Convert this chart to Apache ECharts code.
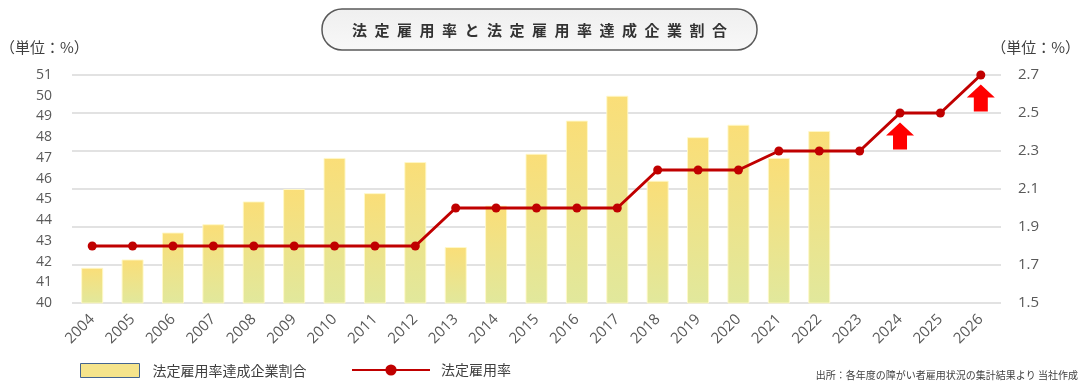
<!DOCTYPE html>
<html>
<head>
<meta charset="utf-8">
<script src="https://cdn.jsdelivr.net/npm/echarts@6/dist/echarts.min.js"></script>
<style>
html,body{margin:0;padding:0;background:#fff;}
#chart{width:1090px;height:388px;}
</style>
</head>
<body>
<div id="chart"></div>
<script>
// ---- data ----
const years = ['2004','2005','2006','2007','2008','2009','2010','2011','2012','2013','2014','2015','2016','2017','2018','2019','2020','2021','2022','2023','2024','2025','2026'];
const achievementRate = [41.7,42.1,43.4,43.8,44.9,45.5,47.0,45.3,46.8,42.7,44.7,47.2,48.8,50.0,45.9,48.0,48.6,47.0,48.3,null,null,null,null];
const legalRate = [1.8,1.8,1.8,1.8,1.8,1.8,1.8,1.8,1.8,2.0,2.0,2.0,2.0,2.0,2.2,2.2,2.2,2.3,2.3,2.3,2.5,2.5,2.7];
const arrowYears = ['2024','2026'];
const leftTicks = {min:40, max:51, interval:1};
const rightTicks = {min:1.5, max:2.7, interval:0.2};
const barName = '法定雇用率達成企業割合';
const lineName = '法定雇用率';
const titleText = '法定雇用率と法定雇用率達成企業割合';
const unitText = '（単位：%）';
const sourceText = '出所：各年度の障がい者雇用状況の集計結果より 当社作成';

const FONT = '"Noto Sans CJK JP", "Noto Sans", sans-serif';
const NUMFONT = '"Open Sans", "Noto Sans", sans-serif';
const spacedTitle = titleText.split('').join('\u2002');

const chart = echarts.init(document.getElementById('chart'), null, {renderer:'canvas'});

const arrowPath = 'path://M14,0 L28,13 L21,13 L21,27 L7,27 L7,13 L0,13 Z';

const option = {
  backgroundColor:'#ffffff',
  textStyle:{fontFamily:FONT},
  animation:false,
  grid:{left:72, right:89, top:75, bottom:85, containLabel:false},
  legend:[
    {
      data:[{name:barName, icon:'rect', itemStyle:{color:'#F5E48C', borderColor:'#44648F', borderWidth:1}}],
      left:75, top:358, itemWidth:59, itemHeight:14,
      textStyle:{fontSize:14, color:'#404040', fontFamily:FONT, padding:[0,0,0,8]},
      selectedMode:false
    },
    {
      data:[{name:lineName}],
      left:346, top:358, itemWidth:78, itemHeight:14,
      textStyle:{fontSize:14, color:'#404040', fontFamily:FONT, padding:[0,0,0,6]},
      selectedMode:false
    }
  ],
  xAxis:{
    type:'category',
    data:years,
    axisLine:{show:false},
    axisTick:{show:false},
    axisLabel:{rotate:45, fontSize:15, color:'#595959', margin:14, fontFamily:NUMFONT}
  },
  yAxis:[
    {
      type:'value', min:leftTicks.min, max:leftTicks.max, interval:leftTicks.interval,
      position:'left',
      axisLine:{show:false}, axisTick:{show:false}, splitLine:{show:false},
      axisLabel:{fontSize:14, color:'#595959', margin:20, fontFamily:NUMFONT}
    },
    {
      type:'value', min:rightTicks.min, max:rightTicks.max, interval:rightTicks.interval,
      position:'right',
      axisLine:{show:false}, axisTick:{show:false},
      splitLine:{show:true, lineStyle:{color:'#D9D9D9', width:1.5}},
      axisLabel:{fontSize:15, color:'#595959', margin:17, fontFamily:NUMFONT,
        formatter:(v)=>v.toFixed(1)}
    }
  ],
  series:[
    {
      name:barName,
      type:'bar',
      yAxisIndex:0,
      data:achievementRate,
      barWidth:22,
      itemStyle:{
        color:new echarts.graphic.LinearGradient(0,0,0,1,[
          {offset:0, color:'#FADE78'},
          {offset:1, color:'#E1E89C'}
        ]),
        borderColor:'rgba(255,248,200,0.9)', borderWidth:1
      },
      z:2
    },
    {
      name:lineName,
      type:'line',
      yAxisIndex:1,
      data:legalRate,
      symbol:'circle',
      symbolSize:9,
      lineStyle:{color:'#C00000', width:3},
      itemStyle:{color:'#C00000'},
      z:3,
      markPoint:{
        symbol:arrowPath,
        symbolSize:[28,27],
        symbolOffset:[0,23],
        label:{show:false},
        itemStyle:{color:'#FF0000'},
        data:arrowYears.map(y=>({coord:[y, legalRate[years.indexOf(y)]]}))
      }
    }
  ],
  graphic:[
    {
      type:'rect',
      shape:{x:322, y:9, width:435, height:41, r:20},
      style:{
        fill:new echarts.graphic.LinearGradient(0,0,0,1,[
          {offset:0, color:'#EFEFEF'},
          {offset:1, color:'#F8F8F8'}
        ]),
        stroke:'#595959', lineWidth:1.5
      },
      z:10
    },
    {
      type:'text',
      x:539.5, y:30,
      style:{text:spacedTitle, font:'bold 15px ' + FONT, fill:'#333333', align:'center', verticalAlign:'middle'},
      z:11
    },
    {
      type:'text',
      x:0, y:47,
      style:{text:unitText, font:'15px ' + FONT, fill:'#404040', align:'left', verticalAlign:'middle'}
    },
    {
      type:'text',
      x:1080, y:47,
      style:{text:unitText, font:'15px ' + FONT, fill:'#404040', align:'right', verticalAlign:'middle'}
    },
    {
      type:'text',
      x:1078, y:375,
      style:{text:sourceText, font:'10px ' + FONT, fill:'#404040', align:'right', verticalAlign:'middle'}
    }
  ]
};

chart.setOption(option);
</script>
</body>
</html>
